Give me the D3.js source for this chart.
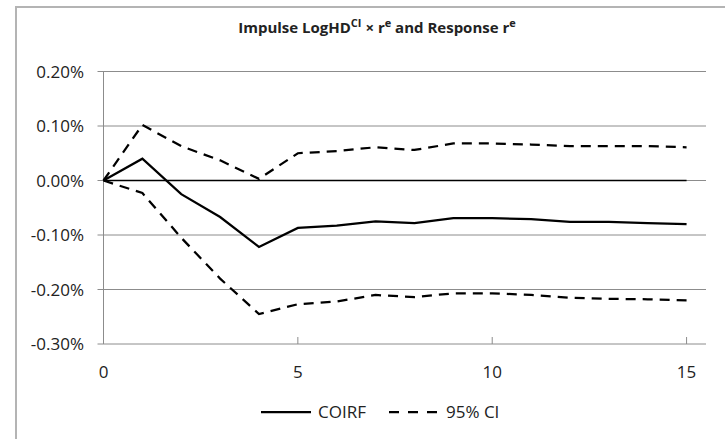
<!DOCTYPE html>
<html>
<head>
<meta charset="utf-8">
<script src="https://cdn.jsdelivr.net/npm/d3@7"></script>
<style>
  body { margin: 0; background: #fff; }
  svg text { font-family: "Open Sans", Lato, sans-serif; fill: #222; }
</style>
</head>
<body>
<svg id="chart-area"></svg>
<script>
// values in percent, horizon 0..15
const steps = d3.range(0, 16)
const coirf = [0, 0.040, -0.025, -0.067, -0.122, -0.087, -0.083, -0.075, -0.078, -0.069, -0.069, -0.071, -0.076, -0.076, -0.078, -0.080]
const upperCI = [0, 0.102, 0.063, 0.037, 0.003, 0.050, 0.054, 0.061, 0.056, 0.068, 0.068, 0.066, 0.063, 0.063, 0.063, 0.061]
const lowerCI = [0, -0.023, -0.105, -0.180, -0.245, -0.227, -0.222, -0.210, -0.214, -0.207, -0.207, -0.210, -0.215, -0.217, -0.218, -0.220]
const zeroLine = steps.map(() => 0)
const yTicks = [0.2, 0.1, 0, -0.1, -0.2, -0.3]
const xTicks = [0, 5, 10, 15]

function drawChart() {
    const width = 725
    const height = 439

    const svg = d3.select("#chart-area")
        .attr("width", width)
        .attr("height", height)

    // outer chart border (cropped at right and bottom)
    svg.append("rect")
        .attr("x", 16).attr("y", 7)
        .attr("width", 760).attr("height", 480)
        .attr("fill", "none")
        .attr("stroke", "#b4b4b4")
        .attr("stroke-width", 2)

    const x = d3.scaleLinear().domain([0, 15.5]).range([103.5, 706])
    const y = d3.scaleLinear().domain([-0.3, 0.2]).range([344, 71.5])

    // gridlines
    svg.selectAll(".grid")
        .data(yTicks)
        .enter().append("line")
        .attr("class", "grid")
        .attr("x1", x(0) - 6)
        .attr("x2", x(15.5))
        .attr("y1", d => y(d))
        .attr("y2", d => y(d))
        .attr("stroke", "#8c8c8c")
        .attr("stroke-width", 1)

    // y axis line
    svg.append("line")
        .attr("x1", x(0)).attr("x2", x(0))
        .attr("y1", y(0.2)).attr("y2", y(-0.3))
        .attr("stroke", "#8c8c8c")

    // x tick marks (inside)
    svg.selectAll(".xtick")
        .data(xTicks.filter(d => d > 0))
        .enter().append("line")
        .attr("class", "xtick")
        .attr("x1", d => x(d)).attr("x2", d => x(d))
        .attr("y1", y(-0.3)).attr("y2", y(-0.3) - 7)
        .attr("stroke", "#8c8c8c")

    // y labels
    svg.selectAll(".ylab")
        .data(yTicks)
        .enter().append("text")
        .attr("class", "ylab")
        .attr("x", 84)
        .attr("y", d => y(d) + 6)
        .attr("text-anchor", "end")
        .attr("font-size", 17)
        .text(d => d3.format(".2f")(d).replace("−", "-") + "%")

    // x labels
    svg.selectAll(".xlab")
        .data(xTicks)
        .enter().append("text")
        .attr("class", "xlab")
        .attr("x", d => x(d))
        .attr("y", 378)
        .attr("text-anchor", "middle")
        .attr("font-size", 17)
        .text(d => d)

    const line = d3.line()
        .x((d, i) => x(steps[i]))
        .y(d => y(d))

    svg.append("path")
        .datum(zeroLine)
        .attr("d", line)
        .attr("fill", "none")
        .attr("stroke", "#000")
        .attr("stroke-width", 1.5)

    const series = [
        { values: upperCI, dash: "10,7" },
        { values: lowerCI, dash: "10,7" },
        { values: coirf, dash: null }
    ]

    svg.selectAll(".series")
        .data(series)
        .enter().append("path")
        .attr("class", "series")
        .attr("d", d => line(d.values))
        .attr("fill", "none")
        .attr("stroke", "#000")
        .attr("stroke-width", 2.25)
        .attr("stroke-dasharray", d => d.dash)

    // title
    const title = svg.append("text")
        .attr("x", 377)
        .attr("y", 33)
        .attr("text-anchor", "middle")
        .attr("font-size", 15)
        .attr("font-weight", "bold")
    title.append("tspan").text("Impulse LogHD")
    title.append("tspan").attr("font-size", 11).attr("dy", -6).text("CI")
    title.append("tspan").attr("dy", 6).text(" × r")
    title.append("tspan").attr("font-size", 11).attr("dy", -6).text("e")
    title.append("tspan").attr("dy", 6).text(" and Response r")
    title.append("tspan").attr("font-size", 11).attr("dy", -6).text("e")

    // legend
    const legend = [
        { label: "COIRF", dash: null, x0: 261 },
        { label: "95% CI", dash: "10,9", x0: 389 }
    ]
    const lg = svg.selectAll(".legend")
        .data(legend)
        .enter().append("g")
        .attr("class", "legend")
        .attr("transform", d => `translate(${d.x0},412)`)
    lg.append("line")
        .attr("x1", 0).attr("x2", 50)
        .attr("stroke", "#000")
        .attr("stroke-width", 2.25)
        .attr("stroke-dasharray", d => d.dash)
    lg.append("text")
        .attr("x", 57)
        .attr("y", 6)
        .attr("font-size", 17)
        .text(d => d.label)
}

drawChart()
</script>
</body>
</html>
